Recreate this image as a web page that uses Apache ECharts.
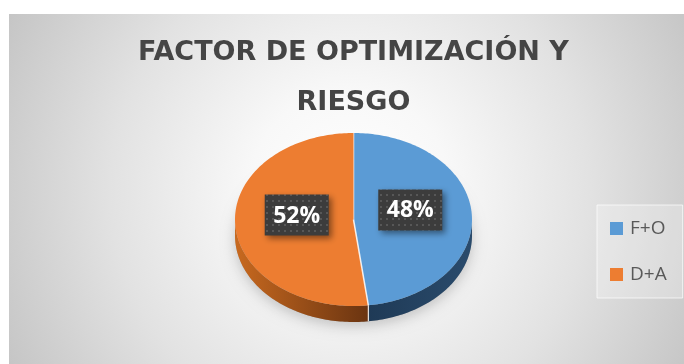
<!DOCTYPE html>
<html>
<head>
<meta charset="utf-8">
<script src="https://cdn.jsdelivr.net/npm/echarts@6/dist/echarts.min.js"></script>
<style>
  html, body { margin: 0; padding: 0; background: #ffffff; }
  #chart { width: 684px; height: 364px; }
</style>
</head>
<body>
<div id="chart"></div>
<script>
// ---- data ----
const categories = ['F+O', 'D+A'];
const shares = [48, 52];
const percentLabels = ['48%', '52%'];
const titleText = 'FACTOR DE OPTIMIZACIÓN Y\nRIESGO';

// ---- styling ----
const topColors = ['#5b9bd5', '#ed7d31'];
const sideStops = [
  ['#1f3a56', '#2a4b6c'],
  ['#c8691f', '#6a3411']
];
const FONT = '"Open Sans", Lato, sans-serif';
const TITLE_FONT = '"DejaVu Sans", "Open Sans", sans-serif';

// tilted disc layout (pixels)
const disc = { cx: 353.5, cy: 219.5, rx: 118.5, ry: 86.5, depth: 16 };

// dotted fill used behind the percentage labels
const dotCanvas = document.createElement('canvas');
dotCanvas.width = 6; dotCanvas.height = 6;
(function () {
  const c = dotCanvas.getContext('2d');
  c.fillStyle = '#3c3c3c';
  c.fillRect(0, 0, 6, 6);
  c.fillStyle = '#575757';
  c.fillRect(2, 2, 2, 2);
})();

function pt(theta, dy) {
  return [disc.cx + disc.rx * Math.sin(theta), disc.cy - disc.ry * Math.cos(theta) + (dy || 0)];
}
function arc(a, b, dy) {
  const pts = [];
  const n = Math.max(8, Math.ceil(Math.abs(b - a) / 0.02));
  for (let i = 0; i <= n; i++) pts.push(pt(a + (b - a) * i / n, dy));
  return pts;
}

function renderSlice(idx) {
  return function (params, api) {
    const total = shares.reduce((s, v) => s + v, 0);
    const before = shares.slice(0, idx).reduce((s, v) => s + v, 0);
    const start = before / total * Math.PI * 2;
    const end = start + api.value(0) / total * Math.PI * 2;
    const children = [];

    // soft shadow under the disc
    if (idx === 0) {
      children.push({
        type: 'ellipse',
        shape: { cx: disc.cx, cy: disc.cy + disc.depth, rx: disc.rx, ry: disc.ry },
        style: { fill: 'rgba(150,150,150,0.6)', shadowBlur: 14, shadowColor: 'rgba(0,0,0,0.35)', shadowOffsetY: 4 },
        z2: 0
      });
    }

    // visible rim (front half of the disc)
    const a = Math.max(start, Math.PI / 2);
    const b = Math.min(end, Math.PI * 1.5);
    if (b > a) {
      const upper = arc(a, b, 0);
      const lower = arc(b, a, disc.depth);
      const xs = upper.map(p => p[0]);
      children.push({
        type: 'polygon',
        shape: { points: upper.concat(lower) },
        style: {
          fill: {
            type: 'linear', global: true,
            x: Math.min.apply(null, xs), y: 0, x2: Math.max.apply(null, xs), y2: 0,
            colorStops: [
              { offset: 0, color: sideStops[idx][0] },
              { offset: 1, color: sideStops[idx][1] }
            ]
          }
        },
        z2: 1
      });
    }
    // seam on the rim where this slice begins
    if (start >= Math.PI / 2 && start <= Math.PI * 1.5) {
      const p0 = pt(start, 0), p1 = pt(start, disc.depth);
      children.push({
        type: 'line',
        shape: { x1: p0[0], y1: p0[1], x2: p1[0], y2: p1[1] },
        style: { stroke: 'rgba(255,255,255,0.85)', lineWidth: 1.2 },
        z2: 2
      });
    }

    // top face
    children.push({
      type: 'polygon',
      shape: { points: [[disc.cx, disc.cy]].concat(arc(start, end, 0)) },
      style: { fill: topColors[idx] },
      z2: 3
    });
    // seam on the top face
    const e = pt(start, 0);
    children.push({
      type: 'line',
      shape: { x1: disc.cx, y1: disc.cy, x2: e[0], y2: e[1] },
      style: { stroke: 'rgba(255,255,255,0.85)', lineWidth: 1.5 },
      z2: 4
    });

    // percentage label box
    const mid = (start + end) / 2;
    const lp = [disc.cx + 0.48 * disc.rx * Math.sin(mid), disc.cy - 0.48 * disc.ry * Math.cos(mid) - 7];
    const bw = 64, bh = 41;
    children.push({
      type: 'rect',
      shape: { x: lp[0] - bw / 2, y: lp[1] - bh / 2, width: bw, height: bh },
      style: {
        fill: { image: dotCanvas, repeat: 'repeat' },
        shadowBlur: 6, shadowOffsetX: 3, shadowOffsetY: 3, shadowColor: 'rgba(0,0,0,0.45)'
      },
      z2: 5
    });
    children.push({
      type: 'text',
      x: lp[0], y: lp[1] + 1,
      style: {
        text: percentLabels[idx],
        fill: '#ffffff',
        font: 'bold 23px ' + FONT,
        align: 'center',
        verticalAlign: 'middle'
      },
      z2: 6
    });

    return { type: 'group', children: children };
  };
}

const chart = echarts.init(document.getElementById('chart'), null, { renderer: 'canvas' });
chart.setOption({
  animation: false,
  graphic: [{
    type: 'rect',
    shape: { x: 9, y: 14, width: 675, height: 350 },
    style: {
      fill: {
        type: 'radial', global: true, x: 350, y: 190, r: 400,
        colorStops: [
          { offset: 0, color: '#ffffff' },
          { offset: 0.25, color: '#f8f8f8' },
          { offset: 0.6, color: '#e2e2e2' },
          { offset: 1, color: '#c2c2c2' }
        ]
      }
    },
    z: -10,
    silent: true
  }],
  title: {
    text: titleText,
    left: 353.5,
    top: 28,
    padding: 0,
    textAlign: 'center',
    textStyle: { fontFamily: TITLE_FONT, fontWeight: 'bold', fontSize: 27, lineHeight: 50, color: '#454545' }
  },
  legend: {
    data: categories,
    orient: 'vertical',
    left: 597,
    top: 205,
    padding: [14, 16, 14, 13],
    itemGap: 27,
    itemWidth: 13,
    itemHeight: 13,
    icon: 'rect',
    backgroundColor: 'rgba(255,255,255,0.25)',
    borderColor: 'rgba(255,255,255,0.7)',
    borderWidth: 1,
    textStyle: { fontFamily: FONT, fontSize: 19, color: '#595959', padding: [0, 0, 0, 2] }
  },
  series: categories.map((name, i) => ({
    type: 'custom',
    name: name,
    coordinateSystem: 'none',
    data: [[shares[i]]],
    itemStyle: { color: topColors[i] },
    renderItem: renderSlice(i),
    z: 2 + i
  }))
});
</script>
</body>
</html>
